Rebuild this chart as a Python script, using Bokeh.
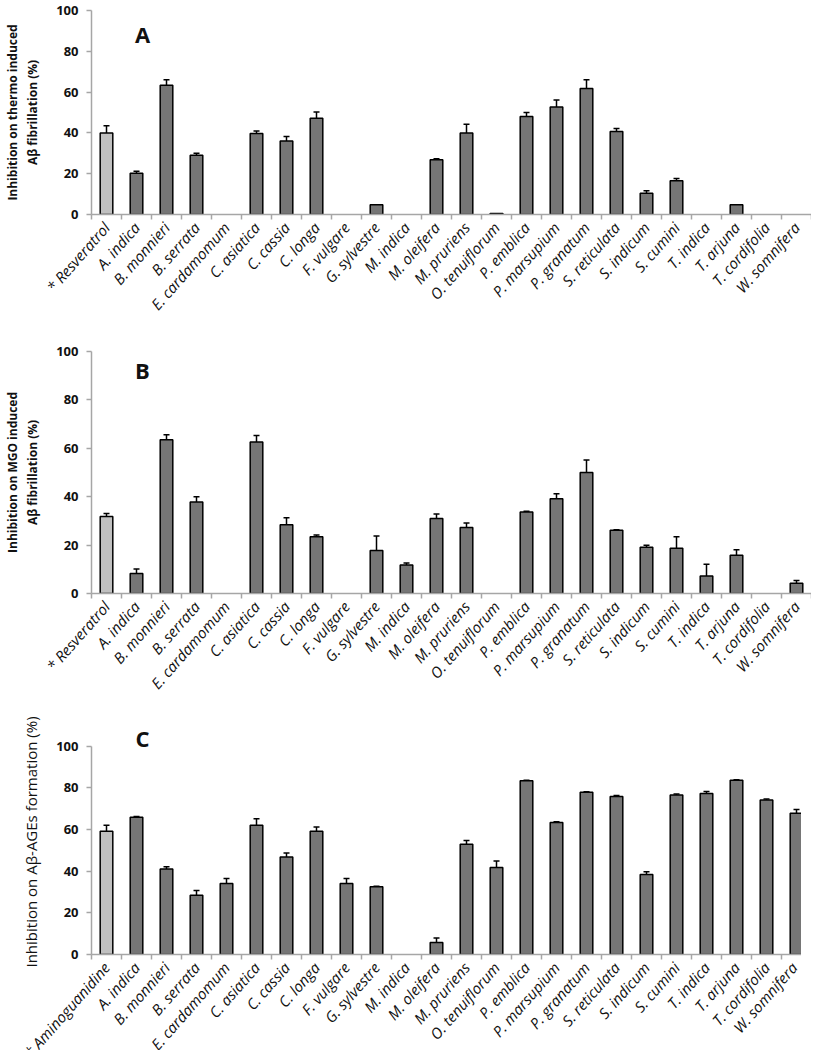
import math
from bokeh.plotting import figure
from bokeh.layouts import column
from bokeh.models import (Range1d, FixedTicker, Whisker, TeeHead, Label,
                          ColumnDataSource)
from bokeh.embed import file_html
from bokeh.resources import INLINE

plants = ["A. indica", "B. monnieri", "B. serrata", "E. cardamomum", "C. asiatica",
          "C. cassia", "C. longa", "F. vulgare", "G. sylvestre", "M. indica",
          "M. oleifera", "M. pruriens", "O. tenuiflorum", "P. emblica",
          "P. marsupium", "P. granatum", "S. reticulata", "S. indicum", "S. cumini",
          "T. indica", "T. arjuna", "T. cordifolia", "W. somnifera"]

labels_ab = ["* Resveratrol"] + plants
labels_c = ["* Aminoguanidine"] + plants

a_values = [40, 20.2, 63.3, 29, 0, 39.7, 36, 47.2, 0, 4.8, 0, 26.8, 40, 0.5,
            48, 52.7, 61.8, 40.7, 10.4, 16.5, 0, 4.8, 0, 0]
a_err = [3.5, 1.0, 2.8, 1.0, 0, 1.2, 2.2, 3.0, 0, 0, 0, 0.5, 4.3, 0,
         2.0, 3.4, 4.3, 1.5, 1.2, 1.1, 0, 0, 0, 0]

b_values = [31.8, 8.3, 63.5, 37.8, 0, 62.6, 28.4, 23.5, 0, 17.8, 11.8, 31.0,
            27.3, 0, 33.7, 39.2, 50.0, 26.1, 19.1, 18.7, 7.2, 15.8, 0, 4.2]
b_err = [1.3, 1.8, 2.1, 2.2, 0, 2.7, 2.9, 0.7, 0, 6.0, 0.8, 1.8,
         1.8, 0, 0.3, 2.0, 5.2, 0.2, 0.8, 4.8, 4.9, 2.3, 0, 1.2]

c_values = [59.2, 65.9, 41.0, 28.5, 34.1, 62.0, 46.8, 59.2, 34.1, 32.5, 0, 5.8,
            52.9, 41.8, 83.4, 63.4, 77.9, 75.8, 38.4, 76.6, 77.3, 83.7, 74.2, 67.8]
c_err = [2.9, 0.3, 1.1, 2.2, 2.4, 3.2, 1.9, 2.0, 2.4, 0.3, 0, 2.1,
         1.8, 3.1, 0.2, 0.3, 0.2, 0.5, 1.3, 0.5, 1.0, 0.2, 0.5, 1.8]

AXIS_GREY = "#a6a6a6"
FONT = "Open Sans"
LABEL_ANGLE = 0.85


def make_panel(labels, vals, errs, title, title_style, title_size, letter,
               letter_y, y_end, frame_h, top, bottom):
    n = len(labels)
    xs = list(range(n))
    p = figure(frame_width=720, frame_height=frame_h,
               min_border_left=81, min_border_right=0,
               min_border_top=top, min_border_bottom=bottom,
               x_range=Range1d(-0.5, n - 0.5), y_range=Range1d(0, y_end),
               output_backend="svg", toolbar_location=None)
    colors = ["#c0c0c0"] + ["#767676"] * (n - 1)
    lalpha = [1.0 if v > 0 else 0.0 for v in vals]
    src = ColumnDataSource(dict(x=xs, top=vals, color=colors, la=lalpha))
    p.vbar(x="x", top="top", bottom=0, width=0.42, fill_color="color",
           line_color="black", line_alpha="la", line_width=1.5, source=src)

    ex = [x for x, e in zip(xs, errs) if e > 0]
    elo = [v for v, e in zip(vals, errs) if e > 0]
    ehi = [v + e for v, e in zip(vals, errs) if e > 0]
    esrc = ColumnDataSource(dict(x=ex, lo=elo, hi=ehi))
    w = Whisker(source=esrc, base="x", lower="lo", upper="hi",
                dimension="height", line_color="black", line_width=1.5,
                upper_head=TeeHead(size=6, line_color="black", line_width=1.5),
                lower_head=None)
    p.add_layout(w)

    xa = p.xaxis[0]
    xa.ticker = FixedTicker(ticks=xs, minor_ticks=[i - 0.5 for i in range(n + 1)])
    xa.major_label_overrides = {i: lab for i, lab in enumerate(labels)}
    xa.major_tick_line_color = None
    xa.minor_tick_line_color = AXIS_GREY
    xa.minor_tick_line_width = 1.5
    xa.minor_tick_out = 5
    xa.minor_tick_in = 0
    xa.axis_line_color = AXIS_GREY
    xa.axis_line_width = 1.5
    xa.major_label_orientation = LABEL_ANGLE
    xa.major_label_standoff = 4
    xa.major_label_text_font = FONT
    xa.major_label_text_font_style = "italic"
    xa.major_label_text_font_size = "15px"
    xa.major_label_text_color = "#111111"

    ya = p.yaxis[0]
    ya.bounds = (0, 100)
    ya.ticker = FixedTicker(ticks=[0, 20, 40, 60, 80, 100], minor_ticks=[])
    ya.major_tick_line_color = AXIS_GREY
    ya.major_tick_line_width = 1.5
    ya.major_tick_out = 5
    ya.major_tick_in = 0
    ya.minor_tick_line_color = None
    ya.axis_line_color = AXIS_GREY
    ya.axis_line_width = 1.5
    ya.major_label_standoff = 8
    ya.major_label_text_font = FONT
    ya.major_label_text_font_style = "bold"
    ya.major_label_text_font_size = "13px"
    ya.major_label_text_color = "#111111"
    ya.axis_label = title
    ya.axis_label_text_font = FONT
    ya.axis_label_text_font_style = title_style
    ya.axis_label_text_font_size = title_size
    ya.axis_label_text_color = "#111111"
    ya.axis_label_standoff = 12

    p.add_layout(Label(x=1.2, y=letter_y, text=letter, text_align="center",
                       text_baseline="middle", text_font=FONT,
                       text_font_style="bold", text_font_size="22px",
                       text_color="#111111"))

    p.xgrid.visible = False
    p.ygrid.visible = False
    p.outline_line_color = None
    return p


pa = make_panel(labels_ab, a_values, a_err,
                "Inhibition on thermo induced\nAβ fibrillation (%)", "bold", "12px",
                "A", 88.5, 100, 204, 10, 117)
pb = make_panel(labels_ab, b_values, b_err,
                "Inhibition on MGO induced\nAβ fibrillation (%)", "bold", "12px",
                "B", 92.5, 100, 242, 20, 117)
pc = make_panel(labels_c, c_values, c_err,
                "Inhibition on Aβ-AGEs formation (%)", "normal", "15px",
                "C", 104, 108, 225, 19, 85)

layout = column(pa, pb, pc, spacing=0)
open("out.html", "w").write(file_html(layout, INLINE))
